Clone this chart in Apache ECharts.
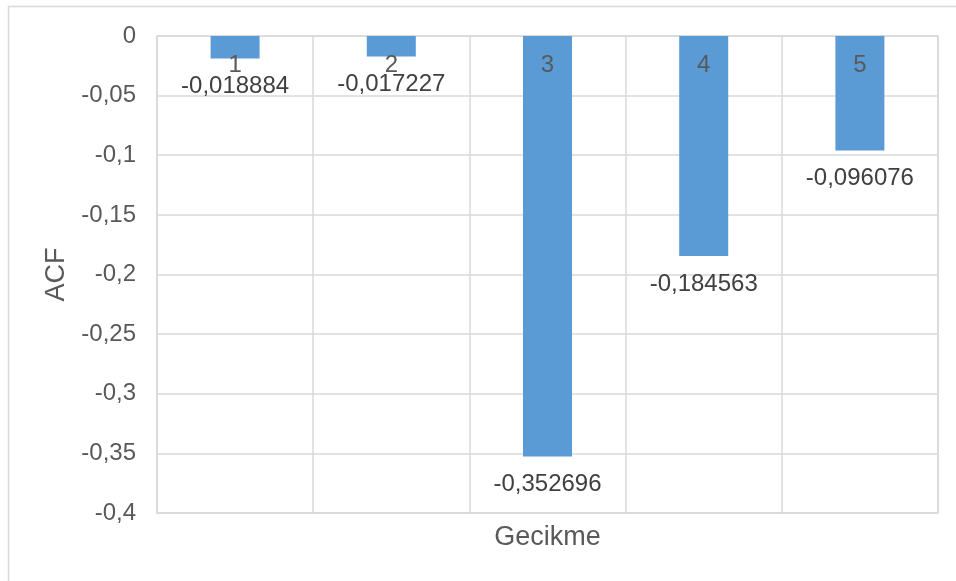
<!DOCTYPE html>
<html>
<head>
<meta charset="utf-8">
<title>ACF</title>
<script src="https://cdn.jsdelivr.net/npm/echarts@6/dist/echarts.min.js"></script>
<style>
  html, body { margin: 0; padding: 0; background: #ffffff; }
  #chart { width: 956px; height: 581px; }
</style>
</head>
<body>
<div id="chart"></div>
<script>
// Lags and their autocorrelation values
const lags = ['1', '2', '3', '4', '5'];
const acfValues = [-0.018884, -0.017227, -0.352696, -0.184563, -0.096076];

// Value axis range
const yMin = -0.4;
const yMax = 0;
const yStep = 0.05;

const FONT = '"Liberation Sans", Arial, sans-serif';
const GRID_COLOR = '#D9D9D9';

// Decimal comma, no trailing zeros
function fmt(v, digits) {
  let s = Number(v).toFixed(digits);
  if (s.indexOf('.') >= 0) s = s.replace(/0+$/, '').replace(/\.$/, '');
  if (s === '-0') s = '0';
  return s.replace('.', ',');
}

const chart = echarts.init(document.getElementById('chart'), null, { renderer: 'canvas' });

chart.setOption({
  backgroundColor: '#ffffff',
  animation: false,
  graphic: [
    {
      // outer chart frame
      type: 'rect',
      z: -10,
      shape: { x: 8.5, y: 6.5, width: 1000, height: 700 },
      style: { fill: 'none', stroke: GRID_COLOR, lineWidth: 1.5 }
    }
  ],
  grid: {
    left: 157, right: 18, top: 36, bottom: 68,
    show: true,
    borderColor: GRID_COLOR,
    borderWidth: 1.5
  },
  xAxis: [
    {
      // category labels sit just under the zero line
      type: 'category',
      data: lags,
      position: 'top',
      z: 5,
      axisLine: { show: false },
      axisTick: { show: false },
      axisLabel: {
        inside: true,
        margin: 17,
        color: '#595959',
        fontFamily: FONT,
        fontSize: 24
      },
      splitLine: { show: true, lineStyle: { color: GRID_COLOR, width: 1.5 } }
    },
    {
      type: 'category',
      data: lags,
      position: 'bottom',
      axisLine: { show: false, onZero: false },
      axisTick: { show: false },
      axisLabel: { show: false },
      name: 'Gecikme',
      nameLocation: 'middle',
      nameGap: 11,
      nameTextStyle: { color: '#595959', fontFamily: FONT, fontSize: 27 }
    }
  ],
  yAxis: {
    type: 'value',
    min: yMin,
    max: yMax,
    interval: yStep,
    name: 'ACF',
    nameLocation: 'middle',
    nameGap: 87,
    nameTextStyle: { color: '#595959', fontFamily: FONT, fontSize: 27 },
    axisLine: { show: false },
    axisTick: { show: false },
    axisLabel: {
      margin: 21,
      color: '#595959',
      fontFamily: FONT,
      fontSize: 24,
      formatter: v => fmt(v, 2)
    },
    splitLine: { show: true, lineStyle: { color: GRID_COLOR, width: 1.5 } }
  },
  series: [
    {
      type: 'bar',
      xAxisIndex: 0,
      data: acfValues,
      barWidth: 49,
      itemStyle: { color: '#5B9BD5' },
      label: {
        show: true,
        position: 'bottom',
        distance: 16,
        color: '#404040',
        fontFamily: FONT,
        fontSize: 24,
        formatter: p => fmt(p.value, 6)
      }
    }
  ]
});
</script>
</body>
</html>
